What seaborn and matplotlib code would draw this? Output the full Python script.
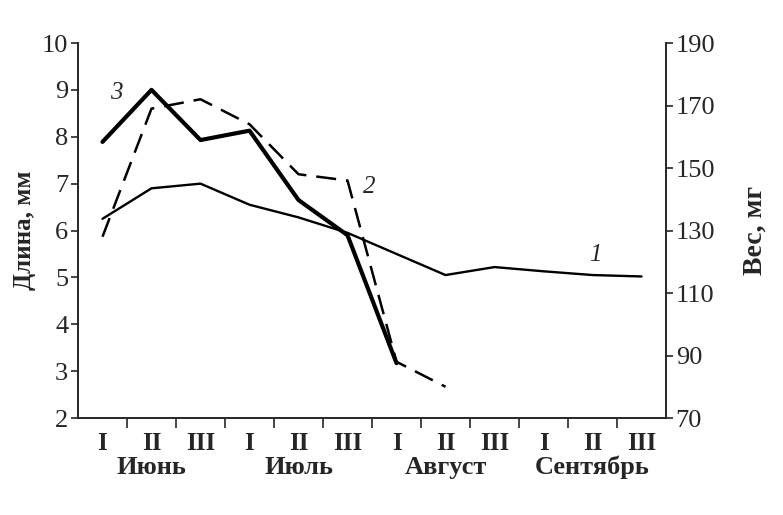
import numpy as np
import pandas as pd
import matplotlib
matplotlib.use("Agg")
import matplotlib.pyplot as plt
import matplotlib.transforms as mtransforms
import seaborn as sns

# decades of each month (x axis)
decades = ["I", "II", "III"] * 4
months = ["Июнь", "Июль", "Август", "Сентябрь"]

# curve 1 - length, mm (left axis)
length_1 = [6.25, 6.9, 7.0, 6.55, 6.28, 5.95, 5.5, 5.05, 5.22, 5.13, 5.05, 5.02]
# curve 3 - left axis
curve_3 = [7.89, 9.0, 7.93, 8.13, 6.65, 5.9, 3.17]
# curve 2 - weight, mg (right axis)
weight_2 = [128, 169, 172, 164, 148, 146, 88, 80]


def main():
    sns.set_style("ticks")
    plt.rcParams["font.family"] = ["Liberation Serif", "DejaVu Serif"]

    fig = plt.figure(figsize=(7.83, 5.15), dpi=100)
    ax = fig.add_axes([0.0996, 0.1883, 0.751, 0.7282])
    ax2 = ax.twinx()

    df1 = pd.DataFrame({"x": np.arange(len(length_1)), "y": length_1})
    df3 = pd.DataFrame({"x": np.arange(len(curve_3)), "y": curve_3})
    df2 = pd.DataFrame({"x": np.arange(len(weight_2)), "y": weight_2})

    sns.lineplot(data=df1, x="x", y="y", ax=ax, color="black", lw=1.7)
    sns.lineplot(data=df3, x="x", y="y", ax=ax, color="black", lw=3.0)
    sns.lineplot(data=df2, x="x", y="y", ax=ax2, color="black", lw=1.8,
                 dashes=False, linestyle=(0, (8, 4)))

    ax.set_xlim(-0.5, 11.5)
    ax.set_ylim(2, 10)
    ax2.set_ylim(70, 190)

    # roman decade labels at centres, tick marks at decade boundaries
    ax.set_xticks(np.arange(12))
    ax.set_xticklabels(decades, fontsize=18, fontweight="bold")
    ax.set_xticks(np.arange(0.5, 11.5, 1), minor=True)
    ax.tick_params(axis="x", which="major", length=0, pad=10)
    ax.tick_params(axis="x", which="minor", length=7, width=1.2, direction="out")

    trans = mtransforms.blended_transform_factory(ax.transData, ax.transAxes)
    for i, m in enumerate(months):
        ax.text(3 * i + 1, -0.132, m, transform=trans, ha="center", va="center",
                fontsize=19, fontweight="bold")

    ax.set_yticks(range(2, 11))
    ax2.set_yticks(range(70, 191, 20))
    ax.tick_params(axis="y", labelsize=19, length=5, width=1.2, pad=2)
    ax2.tick_params(axis="y", labelsize=19, length=5, width=1.2, pad=2)

    ax.set_xlabel("")
    ax.set_ylabel("Длина, мм", fontsize=18, fontweight="bold", labelpad=4)
    ax2.set_ylabel("Вес, мг", fontsize=20, fontweight="bold", labelpad=20)

    for a in (ax, ax2):
        a.spines["top"].set_visible(False)
        for s in ("left", "right", "bottom"):
            a.spines[s].set_linewidth(1.4)
    ax.spines["right"].set_visible(False)
    ax2.spines["left"].set_visible(False)
    ax2.spines["bottom"].set_visible(False)

    # curve numbers
    ax.text(0.28, 8.93, "3", fontsize=18, style="italic", ha="center", va="center")
    ax.text(5.44, 6.93, "2", fontsize=18, style="italic", ha="center", va="center")
    ax.text(10.05, 5.48, "1", fontsize=18, style="italic", ha="center", va="center")

    fig.savefig("out.png", dpi=100)
    plt.close(fig)


if __name__ == "__main__":
    main()
